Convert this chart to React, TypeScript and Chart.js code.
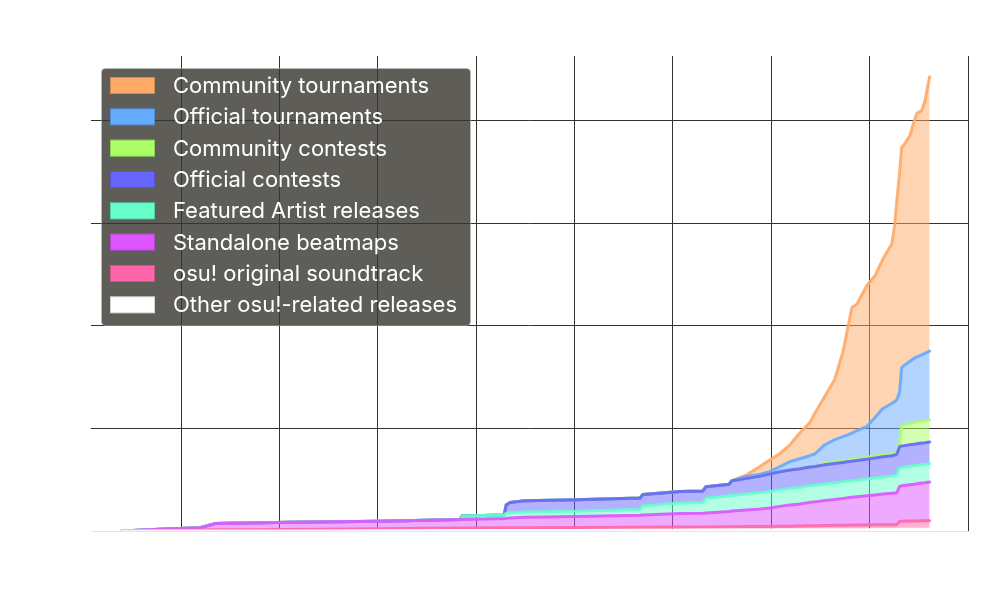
import React, { useEffect, useRef } from "react";
import { Chart, registerables } from "chart.js";

Chart.register(...registerables);

// Time axis (decimal years)
const years = [
  2006.8, 2007.57, 2008.39, 2008.69, 2010.22, 2012.04, 2013.67, 2013.71, 2014.57, 2014.61,
  2014.69, 2014.99, 2016.01, 2017.33, 2017.39, 2018.14, 2018.61, 2018.67, 2019.14, 2019.2,
  2019.5, 2019.77, 2019.97, 2020.17, 2020.38, 2020.58, 2020.78, 2020.89, 2021.09, 2021.29,
  2021.46, 2021.54, 2021.64, 2021.74, 2021.94, 2022.11, 2022.27, 2022.45, 2022.51, 2022.55,
  2022.61, 2022.65, 2022.7, 2022.82, 2022.9, 2022.96, 2023.06, 2023.12, 2023.22,
];

const otherReleases = [
  0, 0, 0, 0, 0, 2, 4, 4, 5, 5, 5, 5, 6, 7, 7, 8, 9, 9, 10, 10, 10, 10, 10, 11, 11, 11, 12, 12,
  12, 12, 13, 13, 13, 13, 13, 14, 14, 14, 14, 14, 17, 17, 17, 17, 17, 17, 17, 17, 18,
];
const originalSoundtrack = [
  0, 5, 10, 12, 15, 20, 25, 25, 26, 26, 26, 27, 28, 30, 30, 31, 31, 31, 31, 31, 33, 34, 35, 35,
  36, 38, 38, 39, 41, 43, 43, 44, 45, 46, 46, 46, 47, 48, 48, 49, 76, 78, 79, 80, 81, 81, 82, 83, 83,
];
const standaloneBeatmaps = [
  0, 12, 22, 60, 70, 73, 83, 84, 91, 92, 96, 102, 108, 117, 119, 132, 134, 136, 150, 153, 162,
  171, 180, 194, 207, 215, 229, 233, 245, 253, 262, 266, 270, 274, 284, 292, 299, 305, 308, 309,
  342, 345, 347, 353, 357, 362, 368, 370, 376,
];
const featuredArtistReleases = [
  0, 0, 0, 0, 0, 0, 0, 33, 34, 50, 50, 50, 50, 56, 88, 103, 105, 144, 152, 152, 156, 159, 161,
  161, 161, 161, 161, 161, 161, 161, 161, 161, 161, 162, 163, 164, 166, 169, 171, 173, 179, 179,
  180, 181, 181, 181, 181, 181, 181,
];
const officialContests = [
  0, 0, 0, 0, 0, 0, 0, 0, 0, 81, 100, 112, 112, 112, 112, 112, 112, 112, 112, 144, 152, 161, 171,
  176, 179, 181, 183, 184, 186, 188, 189, 190, 191, 192, 194, 196, 197, 198, 199, 200, 208, 209,
  209, 210, 210, 210, 210, 210, 210,
];
const communityContests = [
  0, 0, 0, 0, 0, 0, 0, 0, 0, 0, 0, 0, 0, 0, 0, 0, 0, 0, 0, 0, 0, 0, 0, 0, 0, 0, 0, 0, 15, 17, 17,
  18, 18, 18, 18, 19, 19, 19, 19, 20, 20, 199, 200, 205, 210, 212, 213, 215, 215,
];
const officialTournaments = [
  0, 0, 0, 0, 0, 0, 0, 0, 0, 0, 0, 0, 0, 0, 0, 0, 0, 0, 0, 0, 18, 18, 22, 49, 83, 98, 111, 124,
  181, 216, 235, 243, 256, 274, 300, 375, 452, 490, 504, 512, 514, 564, 582, 609, 626, 634, 645,
  655, 671,
];
const communityTournaments = [
  0, 0, 0, 0, 0, 0, 0, 0, 0, 0, 0, 0, 0, 0, 0, 0, 0, 0, 0, 0, 17, 75, 114, 127, 163, 251, 320,
  398, 472, 587, 830, 1010, 1224, 1232, 1372, 1382, 1457, 1555, 1721, 1932, 2142, 2147, 2152,
  2200, 2305, 2372, 2384, 2452, 2674,
];

const xTickYears = [2008, 2010, 2012, 2014, 2016, 2018, 2020, 2022, 2024];
const yTickValues = [1000, 2000, 3000, 4000];

// bottom of the stack first
const seriesLabels = [
  "Other osu!-related releases",
  "osu! original soundtrack",
  "Standalone beatmaps",
  "Featured Artist releases",
  "Official contests",
  "Community contests",
  "Official tournaments",
  "Community tournaments",
];
const seriesValues = [
  otherReleases,
  originalSoundtrack,
  standaloneBeatmaps,
  featuredArtistReleases,
  officialContests,
  communityContests,
  officialTournaments,
  communityTournaments,
];
const seriesColors = [
  [255, 255, 255],
  [255, 102, 170],
  [221, 85, 255],
  [102, 255, 204],
  [102, 102, 255],
  [170, 255, 102],
  [102, 170, 255],
  [255, 170, 102],
];

const GRID = "#36332d";

const boxLegend = {
  id: "boxLegend",
  beforeDatasetsDraw(chart: any) {
    const ctx = chart.ctx as CanvasRenderingContext2D;
    const area = chart.chartArea;
    const x0 = area.left + 10;
    const y0 = area.top + 12;
    const w = 369;
    const h = 257;
    ctx.save();
    ctx.beginPath();
    (ctx as any).roundRect(x0 + 0.5, y0 + 0.5, w, h, 4);
    ctx.fillStyle = "rgba(55,52,46,0.8)";
    ctx.fill();
    ctx.strokeStyle = "rgba(190,190,185,0.55)";
    ctx.lineWidth = 1;
    ctx.stroke();
    const ds = chart.data.datasets.slice().reverse();
    ctx.font = "22px Inter";
    ctx.textBaseline = "middle";
    ctx.textAlign = "left";
    ds.forEach((d: any, i: number) => {
      const cy = y0 + 17.5 + i * 31.33;
      ctx.fillStyle = d.legendColor;
      ctx.fillRect(x0 + 9, cy - 8.5, 45, 17);
      ctx.strokeStyle = "rgba(0,0,0,0.18)";
      ctx.strokeRect(x0 + 9.5, cy - 8, 44, 16);
      ctx.fillStyle = "#ffffff";
      ctx.fillText(d.label, x0 + 72, cy + 1);
    });
    ctx.restore();
  },
};

function StackedChart() {
  const ref = useRef<HTMLCanvasElement | null>(null);
  useEffect(() => {
    document.body.style.margin = "0";
    const canvas = ref.current;
    if (!canvas) return;
    const datasets = seriesLabels.map((label, k) => {
      const [r, g, b] = seriesColors[k];
      return {
        label,
        data: years.map((x, i) => ({ x, y: seriesValues[k][i] })),
        borderColor: `rgba(${r},${g},${b},0.9)`,
        legendColor: `rgb(${r},${g},${b})`,
        backgroundColor: `rgba(${r},${g},${b},0.5)`,
        fill: k === 0 ? "origin" : "-1",
        pointRadius: 0,
        borderWidth: 3,
        tension: 0,
        borderJoinStyle: "round",
        borderCapStyle: "round",
      };
    });
    const chart = new Chart(canvas, {
      type: "line",
      data: { datasets } as any,
      options: {
        animation: false,
        responsive: false,
        maintainAspectRatio: false,
        layout: { padding: { left: 91, right: 32, top: 56, bottom: 69 } },
        plugins: { legend: { display: false }, tooltip: { enabled: false } },
        scales: {
          x: {
            type: "linear",
            min: 2006.17,
            max: 2024,
            afterBuildTicks: (axis: any) => {
              axis.ticks = xTickYears.map((v) => ({ value: v }));
            },
            ticks: { display: false },
            grid: { color: GRID, lineWidth: 1, drawTicks: false },
            border: { display: true, color: "rgba(0,0,0,0.1)" },
          },
          y: {
            type: "linear",
            stacked: true,
            min: 0,
            max: 4630,
            afterBuildTicks: (axis: any) => {
              axis.ticks = yTickValues.map((v) => ({ value: v }));
            },
            ticks: { display: false },
            grid: { color: GRID, lineWidth: 1, drawTicks: false },
            border: { display: false },
          },
        },
      } as any,
      plugins: [boxLegend],
    });
    return () => chart.destroy();
  }, []);
  return (
    <div style={{ position: "absolute", left: 0, top: 0, width: 1000, height: 600, background: "#fff" }}>
      <canvas ref={ref} width={1000} height={600} />
    </div>
  );
}

export default function App() {
  return <StackedChart />;
}
